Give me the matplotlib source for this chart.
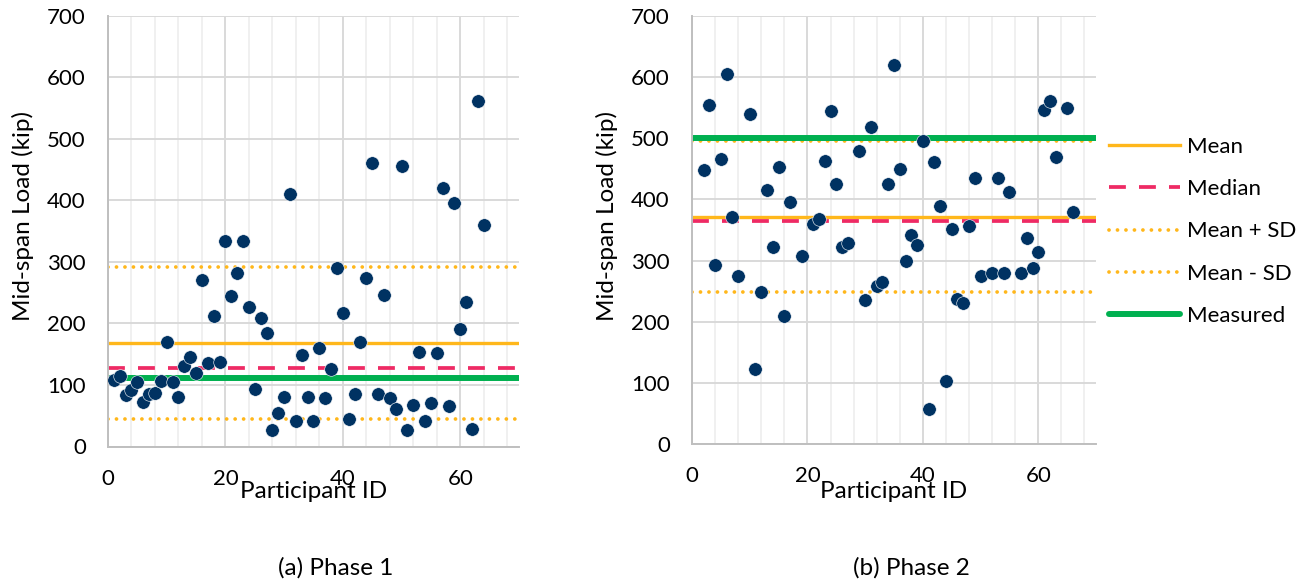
import matplotlib
matplotlib.use("Agg")
import matplotlib.pyplot as plt
from matplotlib.lines import Line2D
from matplotlib.ticker import MultipleLocator

plt.rcParams['font.family'] = ['Lato', 'DejaVu Sans']

# Phase 1 data
p1_id = list(range(1, 65))
p1_load = [108, 115, 84, 91, 104, 73, 85, 87, 106, 170,
           104, 81, 131, 146, 120, 270, 135, 212, 138, 334,
           245, 282, 334, 226, 94, 209, 184, 26, 55, 81,
           410, 41, 149, 81, 41, 160, 78, 126, 290, 217,
           45, 86, 169, 274, 460, 85, 246, 79, 61, 456,
           26, 68, 153, 41, 71, 152, 420, 65, 395, 191,
           235, 28, 561, 360]

# Phase 2 data
p2_id = [2, 3, 4, 5, 6, 7, 8, 10, 11, 12, 13, 14, 15, 16, 17, 19,
         21, 22, 23, 24, 25, 26, 27, 29, 30, 31, 32, 33, 34, 35, 36,
         37, 38, 39, 40, 41, 42, 43, 44, 45, 46, 47, 48, 49, 50, 52,
         53, 54, 55, 57, 58, 59, 60, 61, 62, 63, 65, 66]
p2_load = [448, 555, 293, 466, 605, 371, 274, 540, 123, 248, 416, 323,
           453, 210, 396, 308, 360, 368, 463, 545, 425, 322, 328, 479,
           235, 518, 258, 265, 425, 620, 450, 300, 342, 325, 495, 57,
           461, 389, 103, 351, 237, 230, 356, 435, 275, 280, 435, 280,
           412, 280, 337, 288, 314, 547, 561, 470, 550, 379]

# reference lines: mean, median, mean+sd, mean-sd, measured
p1_stats = [168, 128, 292, 44, 111]
p2_stats = [372, 364, 495, 249, 501]
stat_names = ["Mean", "Median", "Mean + SD", "Mean - SD", "Measured"]

navy = '#003262'
gold = '#FFB71B'
pink = '#EE2A64'
green = '#00B050'

line_styles = [
    dict(color=gold, lw=2.4, ls='-'),
    dict(color=pink, lw=2.7, ls=(0, (4.5, 3.5))),
    dict(color=gold, lw=2.7, ls=(0, (0.01, 2.25)), dash_capstyle='round'),
    dict(color=gold, lw=2.7, ls=(0, (0.01, 2.25)), dash_capstyle='round'),
    dict(color=green, lw=4.3, ls='-', solid_capstyle='round'),
]

fig = plt.figure(figsize=(12.99, 5.86), dpi=100)
ax1 = fig.add_axes([108 / 1299, 1 - 446.5 / 586, 411 / 1299, 431 / 586])
ax2 = fig.add_axes([692 / 1299, 1 - 444 / 586, 404 / 1299, 428 / 586])


def draw_panel(ax, ids, loads, stats):
    for val, st in zip(stats, line_styles):
        ax.axhline(val, zorder=2, **st)
    ax.scatter(ids, loads, s=95, color=navy, edgecolors='white',
               linewidths=0.4, zorder=3)
    ax.set_xlim(0, 70)
    ax.set_ylim(0, 700)
    ax.xaxis.set_major_locator(MultipleLocator(20))
    ax.xaxis.set_minor_locator(MultipleLocator(4))
    ax.yaxis.set_major_locator(MultipleLocator(100))
    ax.set_axisbelow(True)
    ax.grid(True, which='major', color='#D9D9D9', lw=1.4)
    ax.grid(True, which='minor', axis='x', color='#F0F0F0', lw=1.4)
    for side in ['top', 'right']:
        ax.spines[side].set_visible(False)
    for side in ['left', 'bottom']:
        ax.spines[side].set_color('#BFBFBF')
        ax.spines[side].set_linewidth(1.4)
    ax.tick_params(which='both', length=0, labelsize=16, pad=16,
                   colors='black')
    ax.set_xlabel("Participant ID", fontsize=17.5)
    ax.set_ylabel("Mid-span Load (kip)", fontsize=17.5)
    ax.xaxis.label.set_verticalalignment('center')
    ax.yaxis.label.set_verticalalignment('center')


draw_panel(ax1, p1_id, p1_load, p1_stats)
draw_panel(ax2, p2_id, p2_load, p2_stats)

ax1.xaxis.set_label_coords(0.5, (446.5 - 492) / 431)
ax1.yaxis.set_label_coords((23 - 108) / 411, (446.5 - 216) / 431)
ax2.xaxis.set_label_coords(0.5, (444 - 492) / 428)
ax2.yaxis.set_label_coords((607 - 692) / 404, (444 - 216) / 428)

handles = [Line2D([0], [0], **st) for st in line_styles]
fig.legend(handles, stat_names, loc='upper left',
           bbox_to_anchor=(1109 / 1299, 1 - 137 / 586),
           frameon=False, fontsize=16, handlelength=3.2,
           handletextpad=0.32, labelspacing=1.0,
           borderpad=0, borderaxespad=0)

fig.text(336 / 1299, 1 - 568 / 586, "(a) Phase 1", fontsize=17.5,
         ha='center', va='center')
fig.text(911 / 1299, 1 - 568 / 586, "(b) Phase 2", fontsize=17.5,
         ha='center', va='center')

fig.savefig("out.png", dpi=100)
